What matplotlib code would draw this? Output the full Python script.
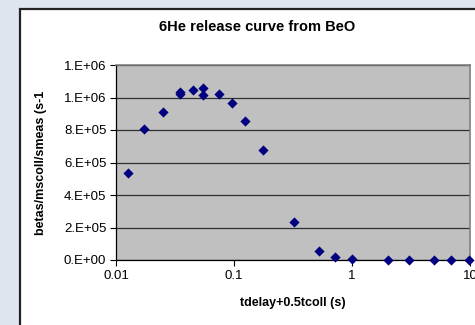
import matplotlib
matplotlib.use('Agg')
import matplotlib.pyplot as plt
from matplotlib.patches import Rectangle
from matplotlib.ticker import FuncFormatter, FixedLocator, NullLocator

# Data
t_release = [0.0127, 0.0174, 0.0249, 0.0349, 0.0349, 0.0452, 0.055, 0.055,
             0.0746, 0.0955, 0.1247, 0.175, 0.322, 0.528, 0.722, 1.0,
             2.0, 3.04, 4.98, 6.93, 9.87]
betas = [5.37e5, 8.06e5, 9.13e5, 1.036e6, 1.023e6, 1.048e6, 1.058e6, 1.015e6,
         1.023e6, 9.68e5, 8.57e5, 6.75e5, 2.36e5, 5.7e4, 2.0e4, 5.0e3,
         1.0e3, 1.0e3, 1.0e3, 1.0e3, 1.0e3]

y_ticks = [0, 2e5, 4e5, 6e5, 8e5, 1.0e6, 1.2e6]
x_ticks = [0.01, 0.1, 1, 10]
x_tick_labels = ['0.01', '0.1', '1', '10']

title = '6He release curve from BeO'
x_label = 'tdelay+0.5tcoll (s)'
y_label = 'betas/mscoll/smeas (s-1'


def excel_sci(v, pos=None):
    """Excel style 0.E+00 format"""
    if v == 0:
        return '0.E+00'
    exp = 0
    m = abs(v)
    while m >= 10:
        m /= 10
        exp += 1
    while m < 1:
        m *= 10
        exp -= 1
    m = int(round(m))
    sign = '+' if exp >= 0 else '-'
    return '%d.E%s%02d' % (m, sign, abs(exp))


plt.rcParams['font.family'] = ['Liberation Sans', 'DejaVu Sans']

fig = plt.figure(figsize=(4.75, 3.25), dpi=100, facecolor='#dfe5ef')

# White chart area with dark frame
fig.patches.append(Rectangle((19.5 / 475, -0.1), 1.0, 1 - 8.5 / 325 + 0.1,
                             transform=fig.transFigure, facecolor='white',
                             edgecolor='#222222', linewidth=1.6, zorder=-10))

ax = fig.add_axes([116 / 475, 1 - 260 / 325, 354 / 475, 195 / 325])
ax.set_facecolor('#c0c0c0')

ax.scatter(t_release, betas, marker='D', s=27, color='#000080',
           zorder=3, clip_on=False, linewidths=0)

ax.set_xscale('log')
ax.set_xlim(0.01, 10)
ax.set_ylim(0, 1.2e6)

ax.xaxis.set_major_locator(FixedLocator(x_ticks))
ax.set_xticklabels(x_tick_labels)
ax.xaxis.set_minor_locator(NullLocator())
ax.yaxis.set_major_locator(FixedLocator(y_ticks))
ax.yaxis.set_major_formatter(FuncFormatter(excel_sci))

ax.grid(axis='y', color='#303030', linewidth=0.9)
ax.set_axisbelow(True)

ax.tick_params(axis='both', labelsize=9.5, color='black', length=4,
               width=0.8, pad=3)
ax.tick_params(axis='y', direction='out')

for side in ['top', 'right']:
    ax.spines[side].set_color('#808080')
    ax.spines[side].set_linewidth(1.2)
for side in ['left', 'bottom']:
    ax.spines[side].set_color('black')
    ax.spines[side].set_linewidth(0.9)

ax.set_xlabel(x_label, fontsize=9, fontweight='bold')
ax.xaxis.set_label_coords(0.5, -0.19)
ax.set_ylabel(y_label, fontsize=9, fontweight='bold')
ax.yaxis.set_label_coords(-0.195, 0.5)

fig.text(257 / 475, 1 - 27 / 325, title, fontsize=10.5, fontweight='bold',
         ha='center', va='center')

fig.savefig('out.png', dpi=100, facecolor=fig.get_facecolor())
